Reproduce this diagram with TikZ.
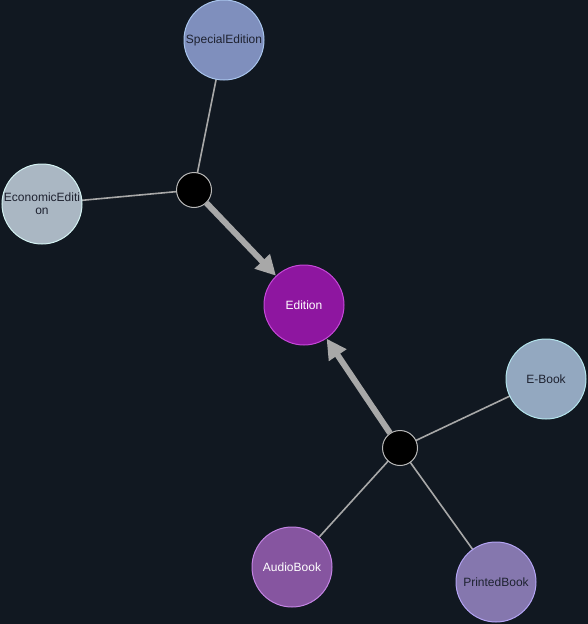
\documentclass[tikz,border=0pt]{standalone}
\usepackage{fontspec}
\setmainfont{Liberation Sans}
\usetikzlibrary{arrows.meta}
\definecolor{bg}{HTML}{111821}
\definecolor{edge}{HTML}{A8A8A8}
\definecolor{darktext}{HTML}{1E2230}
\definecolor{specfill}{HTML}{7F8FBD}\definecolor{specline}{HTML}{A8C4EC}
\definecolor{econfill}{HTML}{AAB7C3}\definecolor{econline}{HTML}{D4F2F2}
\definecolor{edfill}{HTML}{8E16A0}\definecolor{edline}{HTML}{C648D8}
\definecolor{ebfill}{HTML}{93A8C0}\definecolor{ebline}{HTML}{B4E4EC}
\definecolor{aufill}{HTML}{8655A0}\definecolor{auline}{HTML}{C484E4}
\definecolor{prfill}{HTML}{8577AE}\definecolor{prline}{HTML}{B4A4F4}
\tikzset{
  entity/.style={circle, minimum size=80pt, inner sep=0pt, line width=1pt, font=\fontsize{12}{13}\selectfont, align=center},
  hub/.style={circle, minimum size=35pt, inner sep=0pt, fill=black, draw=edge!80, line width=1pt},
  link/.style={draw=edge, line width=1.6pt},
  inherit/.style={draw=edge, line width=6pt, -{Triangle[length=20pt,width=20pt]}}
}
\begin{document}
\begin{tikzpicture}[x=1pt,y=-1pt]
\fill[bg] (0,0) rectangle (588,624);
\useasboundingbox (0,0) rectangle (588,624);
\draw[link] (194,190) -- (224,40);
\draw[link] (194,190) -- (42,204);
\draw[link] (400,448) -- (546,379);
\draw[link] (400,448) -- (292,567);
\draw[link] (400,448) -- (496,582);
\node[entity, fill=specfill, draw=specline, text=darktext] (special) at (224,40) {SpecialEdition};
\node[entity, fill=econfill, draw=econline, text=darktext] (economic) at (42,204) {EconomicEditi\\on};
\node[hub] (j1) at (194,190) {};
\node[entity, fill=edfill, draw=edline, text=white] (edition) at (304,305) {Edition};
\node[entity, fill=ebfill, draw=ebline, text=darktext] (ebook) at (546,379) {E-Book};
\node[hub] (j2) at (400,448) {};
\node[entity, fill=aufill, draw=auline, text=white] (audio) at (292,567) {AudioBook};
\node[entity, fill=prfill, draw=prline, text=darktext] (printed) at (496,582) {PrintedBook};
\draw[inherit] (j1) -- (edition);
\draw[inherit] (j2) -- (edition);
\end{tikzpicture}
\end{document}
